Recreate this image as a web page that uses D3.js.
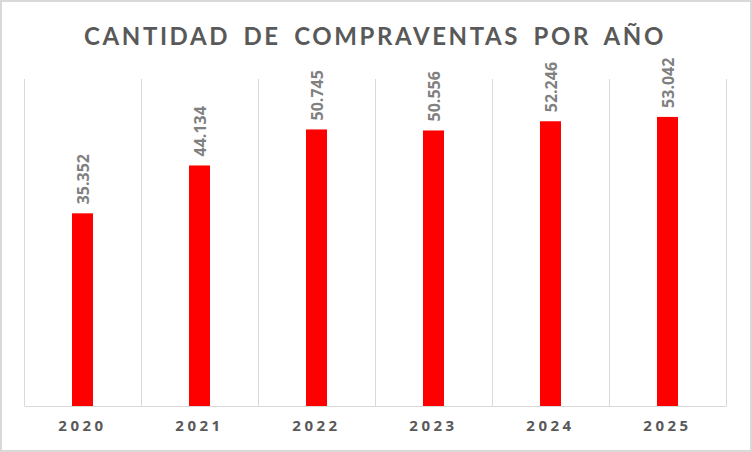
<!DOCTYPE html>
<html>
<head>
<meta charset="utf-8">
<script src="https://cdn.jsdelivr.net/npm/d3@7"></script>
<style>
  body { margin: 0; background: #fff; }
</style>
</head>
<body>
<div id="canvas"></div>
<script>
// data
const years = ["2020", "2021", "2022", "2023", "2024", "2025"];
const ventas = [35352, 44134, 50745, 50556, 52246, 53042];
const ventasLabels = ["35.352", "44.134", "50.745", "50.556", "52.246", "53.042"];

const width = 752;
const height = 452;
const marginTop = 79;
const marginBottom = 46;
const marginLeft = 24;
const marginRight = 26;

const data = years.map((y, i) => ({year: y, value: ventas[i], label: ventasLabels[i]}));

const x = d3.scaleBand()
    .domain(years)
    .range([marginLeft, width - marginRight])
    .paddingInner(0)
    .paddingOuter(0);

const y = d3.scaleLinear()
    .domain([0, 60000])
    .range([height - marginBottom, marginTop]);

const barW = 21;

const svg = d3.select("#canvas")
    .append("svg")
    .attr("width", width)
    .attr("height", height)
    .attr("viewBox", [0, 0, width, height]);

// chart border
svg.append("rect")
    .attr("x", 1)
    .attr("y", 1)
    .attr("width", width - 2)
    .attr("height", height - 2)
    .attr("fill", "#fff")
    .attr("stroke", "#d9d9d9")
    .attr("stroke-width", 2);

// title
svg.append("text")
    .attr("x", 375)
    .attr("y", 45)
    .attr("text-anchor", "middle")
    .attr("font-family", "Lato, sans-serif")
    .attr("font-weight", 700)
    .attr("font-size", 24)
    .attr("letter-spacing", 2.6)
    .attr("word-spacing", 5)
    .attr("fill", "#595959")
    .text("CANTIDAD DE COMPRAVENTAS POR AÑO");

// vertical gridlines at category boundaries
const bounds = years.map(d => x(d)).concat([x(years[years.length - 1]) + x.bandwidth()]);
svg.append("g")
    .selectAll("line")
    .data(bounds)
    .join("line")
        .attr("x1", d => Math.round(d) + 0.5)
        .attr("x2", d => Math.round(d) + 0.5)
        .attr("y1", y(60000))
        .attr("y2", y(0))
        .attr("stroke", "#d9d9d9")
        .attr("stroke-width", 1);

// bars
svg.append("g")
    .selectAll("rect")
    .data(data)
    .join("rect")
        .attr("x", d => x(d.year) + x.bandwidth() / 2 - barW / 2)
        .attr("y", d => y(d.value))
        .attr("width", barW)
        .attr("height", d => y(0) - y(d.value))
        .attr("fill", "#ff0000");

// x axis
svg.append("g")
    .attr("transform", `translate(0,${y(0)})`)
    .call(d3.axisBottom(x).tickSize(0).tickPadding(14))
    .call(g => g.select(".domain").attr("stroke", "#d9d9d9"))
    .call(g => g.selectAll("text")
        .attr("font-family", "'Open Sans', sans-serif")
        .attr("font-weight", 700)
        .attr("font-size", 15)
        .attr("letter-spacing", 3.5)
        .attr("fill", "#595959"));

// value labels, rotated
svg.append("g")
    .selectAll("text")
    .data(data)
    .join("text")
        .attr("transform", d => `translate(${x(d.year) + x.bandwidth() / 2 + 6},${y(d.value) - 9}) rotate(-90)`)
        .attr("text-anchor", "start")
        .attr("font-family", "'Open Sans', sans-serif")
        .attr("font-weight", 700)
        .attr("font-size", 16)
        .attr("fill", "#808080")
        .text(d => d.label);
</script>
</body>
</html>
